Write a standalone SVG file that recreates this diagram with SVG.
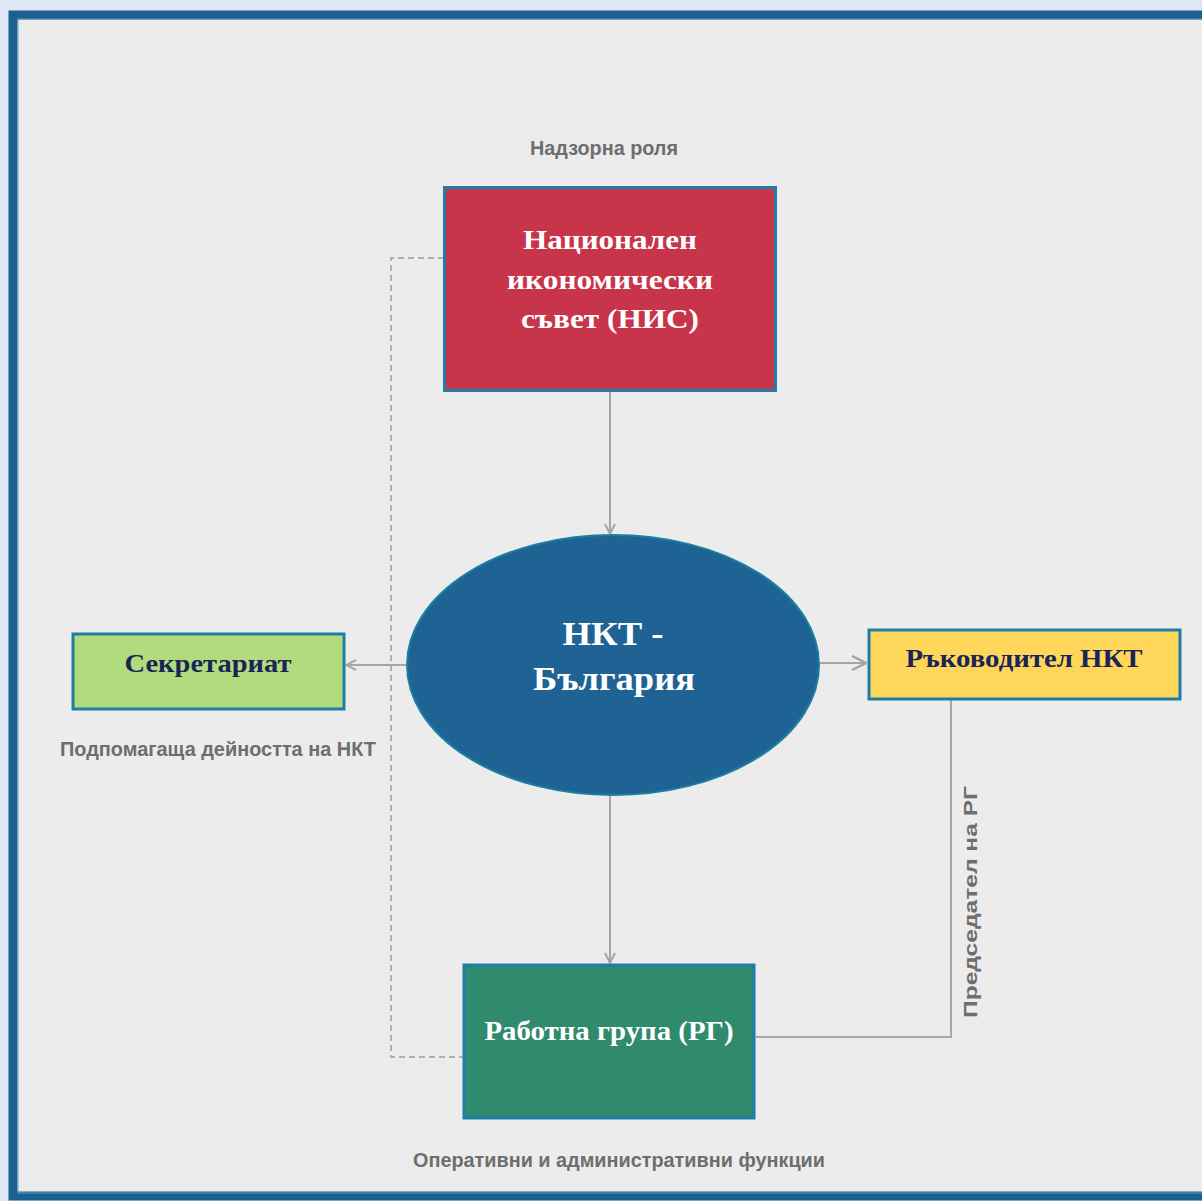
<svg xmlns="http://www.w3.org/2000/svg" width="1202" height="1201" viewBox="0 0 1202 1201">
<style>
.node{stroke:#1f7ea8;stroke-width:3}
.lbl{font-family:"Liberation Sans Narrow","Liberation Serif","Times New Roman",serif;font-weight:bold;text-anchor:middle}
.lbl{font-family:"Liberation Serif","Times New Roman",serif}
.note{font-family:"Liberation Sans",Arial,sans-serif;font-weight:bold;fill:#6e6e6e;text-anchor:middle}
.conn{fill:none;stroke:#a6a6a6;stroke-width:2}
.dash{fill:none;stroke:#b0b0b0;stroke-width:2;stroke-dasharray:6,4}
</style>
<defs>
<marker id="arr" viewBox="0 0 12 12" refX="11" refY="6" markerWidth="12" markerHeight="12" markerUnits="userSpaceOnUse" orient="auto">
<path d="M1,1 L11,6 L1,11" fill="none" stroke="#a6a6a6" stroke-width="2"/>
</marker>
<marker id="arr2" viewBox="0 0 16 16" refX="15" refY="8" markerWidth="16" markerHeight="16" markerUnits="userSpaceOnUse" orient="auto">
<path d="M1,1 L15,8 L1,15" fill="none" stroke="#a6a6a6" stroke-width="2.5"/>
</marker>
</defs>
<rect x="0" y="0" width="1202" height="1201" fill="#dde8f4"/>
<rect x="13" y="15" width="1200" height="1181" fill="#ececec" stroke="#1c6090" stroke-width="9"/>
<rect x="18" y="19" width="1190" height="1174" fill="none" stroke="#5aa0c0" stroke-width="1"/>

<g id="connectors">
<path class="dash" d="M444,258 H391 V1057 H463"/>
<path class="conn" d="M610,392 V534" marker-end="url(#arr)"/>
<path class="conn" d="M610,796 V963" marker-end="url(#arr)"/>
<path class="conn" d="M407,665 H346" marker-end="url(#arr)"/>
<path class="conn" d="M820,663 H866" marker-end="url(#arr2)" stroke-width="3"/>
<path class="conn" d="M951,700 V1037 H756"/>
</g>

<g id="nis">
<rect class="node" x="444.5" y="187.5" width="331" height="203" fill="#c8354a"/>
<text class="lbl" x="610" y="249" font-size="27" fill="#ffffff" font-weight="bold" textLength="174" lengthAdjust="spacingAndGlyphs">Национален</text>
<text class="lbl" x="610" y="289" font-size="27" fill="#ffffff" font-weight="bold" textLength="206" lengthAdjust="spacingAndGlyphs">икономически</text>
<text class="lbl" x="610" y="328" font-size="27" fill="#ffffff" font-weight="bold" textLength="178" lengthAdjust="spacingAndGlyphs">съвет (НИС)</text>
</g>
<text class="note" x="604" y="155" font-size="20" textLength="148" lengthAdjust="spacingAndGlyphs">Надзорна роля</text>

<g id="nkt">
<ellipse cx="613" cy="665" rx="206" ry="130" fill="#1f6395" stroke="#1a7fa0" stroke-width="2"/>
<text class="lbl" x="613" y="645" font-size="33" fill="#ffffff" font-weight="bold" textLength="101" lengthAdjust="spacingAndGlyphs">НКТ -</text>
<text class="lbl" x="614" y="690" font-size="33" fill="#ffffff" font-weight="bold" textLength="162" lengthAdjust="spacingAndGlyphs">България</text>
</g>

<g id="secretariat">
<rect class="node" x="73" y="634" width="271" height="75" fill="#b0dc7e"/>
<text class="lbl" x="208" y="672" font-size="26" fill="#1a2456" font-weight="bold" textLength="167" lengthAdjust="spacingAndGlyphs">Секретариат</text>
</g>
<text class="note" x="218" y="756" font-size="20" textLength="316" lengthAdjust="spacingAndGlyphs">Подпомагаща дейността на НКТ</text>

<g id="rukovoditel">
<rect class="node" x="869" y="630" width="311" height="69" fill="#fdd65a"/>
<text class="lbl" x="1024" y="667" font-size="26" fill="#1a2456" font-weight="bold" textLength="237" lengthAdjust="spacingAndGlyphs">Ръководител НКТ</text>
</g>
<text class="note" x="0" y="0" font-size="18" transform="translate(977,902) rotate(-90)" textLength="232" lengthAdjust="spacingAndGlyphs">Председател на РГ</text>

<g id="rg">
<rect class="node" x="464" y="965" width="290" height="153" fill="#2f8a6e"/>
<text class="lbl" x="609" y="1040" font-size="27" fill="#ffffff" font-weight="bold" textLength="249" lengthAdjust="spacingAndGlyphs">Работна група (РГ)</text>
</g>
<text class="note" x="619" y="1167" font-size="20" textLength="412" lengthAdjust="spacingAndGlyphs">Оперативни и административни функции</text>
</svg>
